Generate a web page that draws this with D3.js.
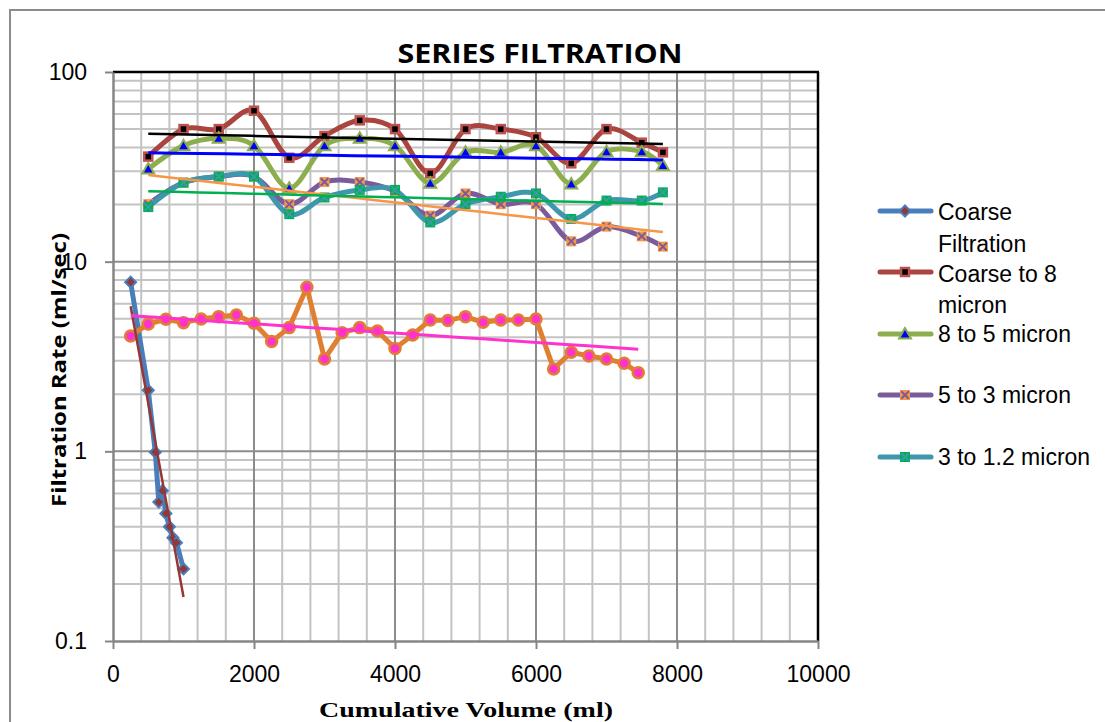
<!DOCTYPE html>
<html><head><meta charset="utf-8">
<script src="https://cdnjs.cloudflare.com/ajax/libs/d3/7.8.5/d3.min.js"></script>
<style>html,body{margin:0;padding:0;background:#fff;}svg{display:block;}</style>
</head><body>
<svg id="c" width="1105" height="722"></svg>
<script>
// ---------- data ----------
const seriesNames = ["Coarse Filtration","Coarse to 8 micron","8 to 5 micron","5 to 3 micron","3 to 1.2 micron","Series 6"];
const coarseX = [250,500,600,650,700,750,800,850,900,1000];
const coarseY = [7.8,2.1,0.99,0.54,0.62,0.47,0.40,0.35,0.33,0.24];
const stageX = [500,1000,1500,2000,2500,3000,3500,4000,4500,5000,5500,6000,6500,7000,7500,7800];
const c8Y   = [35.8,50,50,62.5,35.3,46,55.6,50,29.2,50,50,45.3,33,50,42.4,37.7];
const f85Y  = [30.8,40.9,44.7,40.9,24.4,40.9,44.7,40.9,25.9,37.7,37.7,40.9,25.7,38,38,32.1];
const f53Y  = [20.1,26.1,28.1,28.1,20.1,26.3,26.3,23.5,17.5,22.9,20.1,20.1,12.8,15.3,13.6,12.0];
const f312Y = [19.4,26.1,28.1,28.1,17.8,21.8,23.9,23.9,16.1,20.1,22.0,22.9,16.8,21.0,21.0,23.2];
const s6X = [250,500,750,1000,1250,1500,1750,2000,2250,2500,2750,3000,3250,3500,3750,4000,4250,4500,4750,5000,5250,5500,5750,6000,6250,6500,6750,7000,7250,7450];
const s6Y = [4.06,4.69,4.97,4.77,4.99,5.13,5.24,4.73,3.79,4.49,7.33,3.07,4.22,4.49,4.31,3.49,4.11,4.93,4.90,5.13,4.79,4.93,4.93,4.99,2.72,3.33,3.18,3.07,2.91,2.60];
const xTicks = [0,2000,4000,6000,8000,10000];
const yTicks = [0.1,1,10,100];

// ---------- styles ----------
const styles = [
  {line:"#4A7EBB", smooth:false, marker:"diamond", mFill:"#8E3A3A", mStroke:"#4A7EBB", trend:"#953735", tw:2.5, legend:true},
  {line:"#A9443F", smooth:true,  marker:"square",  mFill:"#000000", mStroke:"#C0504D", trend:"#000000", tw:2.5, legend:true},
  {line:"#8DAE4E", smooth:true,  marker:"triangle",mFill:"#0000FF", mStroke:"#8DAE4E", trend:"#0000FF", tw:3, legend:true},
  {line:"#7A5C9C", smooth:true,  marker:"xsq",     mFill:"#F79646", mStroke:"#7A5C9C", trend:"#F79646", tw:2.5, legend:true},
  {line:"#3F97AE", smooth:true,  marker:"xsq",     mFill:"#00B050", mStroke:"#3F97AE", trend:"#00B050", tw:2.5, legend:true},
  {line:"#E07F32", smooth:false, marker:"circle",  mFill:"#FF33CC", mStroke:"#E07F32", trend:"#FF33CC", tw:3, legend:false}
];
const data = [
  coarseX.map((v,i)=>[v,coarseY[i]]),
  stageX.map((v,i)=>[v,c8Y[i]]),
  stageX.map((v,i)=>[v,f85Y[i]]),
  stageX.map((v,i)=>[v,f53Y[i]]),
  stageX.map((v,i)=>[v,f312Y[i]]),
  s6X.map((v,i)=>[v,s6Y[i]])
];

const svg = d3.select("#c");
const L=113, R=818, T=72, B=641;
const x = d3.scaleLinear().domain([0,10000]).range([L,R]);
const y = d3.scaleLog().domain([0.1,100]).range([B,T]);

// outer frame
svg.append("rect").attr("x",10).attr("y",10).attr("width",1110).attr("height",730)
  .attr("fill","none").attr("stroke","#8C8C8C").attr("stroke-width",2);

// grid
const g = svg.append("g");
const minorV = d3.range(400,10000,400).filter(v=>v%2000!==0);
const majorV = [2000,4000,6000,8000];
g.selectAll(".mv").data(minorV).enter().append("line")
  .attr("x1",d=>x(d)).attr("x2",d=>x(d)).attr("y1",T).attr("y2",B)
  .attr("stroke","#C3C3C3").attr("stroke-width",2);
const minorH = [];
[0.1,1,10].forEach(d=>{for(let k=2;k<=9;k++) minorH.push(d*k);});
g.selectAll(".mh").data(minorH).enter().append("line")
  .attr("x1",L).attr("x2",R).attr("y1",d=>y(d)).attr("y2",d=>y(d))
  .attr("stroke","#C3C3C3").attr("stroke-width",2);
g.selectAll(".Mv").data(majorV).enter().append("line")
  .attr("x1",d=>x(d)).attr("x2",d=>x(d)).attr("y1",T).attr("y2",B)
  .attr("stroke","#8C8C8C").attr("stroke-width",2);
g.selectAll(".Mh").data([1,10]).enter().append("line")
  .attr("x1",L).attr("x2",R).attr("y1",d=>y(d)).attr("y2",d=>y(d))
  .attr("stroke","#8C8C8C").attr("stroke-width",2);
// top/right border
svg.append("line").attr("x1",L).attr("x2",R+1).attr("y1",T).attr("y2",T).attr("stroke","#000").attr("stroke-width",2.5);
svg.append("line").attr("x1",R).attr("x2",R).attr("y1",T).attr("y2",B).attr("stroke","#000").attr("stroke-width",2.5);

// axes
const fmtY = d=> d===0.1?"0.1":String(d);
const ax = svg.append("g").attr("transform",`translate(0,${B})`)
  .call(d3.axisBottom(x).tickValues(xTicks).tickSize(8).tickPadding(17).tickSizeOuter(0).tickFormat(d3.format("d")));
const ay = svg.append("g").attr("transform",`translate(${L},0)`)
  .call(d3.axisLeft(y).tickValues(yTicks).tickSize(8).tickPadding(18).tickSizeOuter(0).tickFormat(fmtY));
[ax,ay].forEach(a=>{
  a.select(".domain").attr("stroke","#868686").attr("stroke-width",2.5);
  a.selectAll(".tick line").attr("stroke","#868686").attr("stroke-width",2);
  a.selectAll("text").attr("font-family","'Liberation Sans', Arial, sans-serif").attr("font-size",23).attr("fill","#000");
});

// series lines
const lineStraight = d3.line().x(d=>x(d[0])).y(d=>y(d[1]));
const lineSmooth = d3.line().x(d=>x(d[0])).y(d=>y(d[1])).curve(d3.curveCardinal.tension(0));
const plot = svg.append("g");

function drawMarker(sel, type, cx, cy, st, scale){
  const s = scale||1;
  if(type==="diamond"){
    const r=5.5*s;
    sel.append("path").attr("d",`M${cx},${cy-r}L${cx+r},${cy}L${cx},${cy+r}L${cx-r},${cy}Z`)
      .attr("fill",st.mFill).attr("stroke",st.mStroke).attr("stroke-width",2);
  } else if(type==="square"){
    const h=4*s;
    sel.append("rect").attr("x",cx-h).attr("y",cy-h).attr("width",2*h).attr("height",2*h)
      .attr("fill",st.mFill).attr("stroke",st.mStroke).attr("stroke-width",2.5);
  } else if(type==="triangle"){
    const r=6*s;
    sel.append("path").attr("d",`M${cx},${cy-r}L${cx+r},${cy+r*0.75}L${cx-r},${cy+r*0.75}Z`)
      .attr("fill",st.mFill).attr("stroke",st.mStroke).attr("stroke-width",2);
  } else if(type==="xsq"){
    const h=5*s;
    sel.append("rect").attr("x",cx-h).attr("y",cy-h).attr("width",2*h).attr("height",2*h)
      .attr("fill",st.mFill).attr("stroke","none");
    const k=3.8*s;
    sel.append("path").attr("d",`M${cx-k},${cy-k}L${cx+k},${cy+k}M${cx-k},${cy+k}L${cx+k},${cy-k}`)
      .attr("stroke",st.mStroke).attr("stroke-width",2).attr("fill","none");
  } else if(type==="circle"){
    sel.append("circle").attr("cx",cx).attr("cy",cy).attr("r",5.5*s)
      .attr("fill",st.mFill).attr("stroke",st.mStroke).attr("stroke-width",2.5);
  }
}

data.forEach((pts,i)=>{
  const st = styles[i];
  plot.append("path").datum(pts).attr("d",(st.smooth?lineSmooth:lineStraight))
    .attr("fill","none").attr("stroke",st.line).attr("stroke-width",5)
    .attr("stroke-linejoin","round").attr("stroke-linecap","round");
  const mg = plot.append("g");
  pts.forEach(p=>drawMarker(mg, st.marker, x(p[0]), y(p[1]), st));
});

// exponential trendlines (least squares on ln y)
data.forEach((pts,i)=>{
  const st = styles[i];
  const n = pts.length;
  const mx = d3.mean(pts,p=>p[0]), my = d3.mean(pts,p=>Math.log(p[1]));
  let sxy=0,sxx=0;
  pts.forEach(p=>{sxy+=(p[0]-mx)*(Math.log(p[1])-my); sxx+=(p[0]-mx)**2;});
  const b = sxy/sxx, a = my - b*mx;
  const x0 = d3.min(pts,p=>p[0]), x1 = d3.max(pts,p=>p[0]);
  const tp = d3.range(0,21).map(k=>{const xv=x0+(x1-x0)*k/20; return [xv, Math.exp(a+b*xv)];});
  plot.append("path").datum(tp).attr("d",lineStraight)
    .attr("fill","none").attr("stroke",st.trend).attr("stroke-width",st.tw);
});

// title
svg.append("text").attr("x",540).attr("y",63).attr("text-anchor","middle")
  .attr("font-family","'Open Sans', 'Liberation Sans', sans-serif").attr("font-weight","bold")
  .attr("font-size",26).attr("textLength",285).attr("lengthAdjust","spacingAndGlyphs")
  .text("SERIES FILTRATION");
// axis titles
svg.append("text").attr("x",466).attr("y",717).attr("text-anchor","middle")
  .attr("font-family","'Liberation Serif', 'Times New Roman', serif").attr("font-weight","bold")
  .attr("font-size",22).attr("textLength",294).attr("lengthAdjust","spacingAndGlyphs")
  .text("Cumulative Volume (ml)");
svg.append("text").attr("transform","translate(66,370) rotate(-90)").attr("text-anchor","middle")
  .attr("font-family","'Open Sans', 'Liberation Sans', sans-serif").attr("font-weight","bold")
  .attr("font-size",20).attr("textLength",274).attr("lengthAdjust","spacingAndGlyphs")
  .text("Filtration Rate (ml/sec)");

// legend
const legendRows = [
  {lines:["Coarse","Filtration"], ly:211, by:[220,252]},
  {lines:["Coarse to 8","micron"], ly:272, by:[282,313]},
  {lines:["8 to 5 micron"], ly:334, by:[342]},
  {lines:["5 to 3 micron"], ly:395, by:[403]},
  {lines:["3 to 1.2 micron"], ly:457, by:[465]}
];
const lg = svg.append("g");
legendRows.forEach((r,i)=>{
  const st = styles[i];
  lg.append("line").attr("x1",880).attr("x2",931).attr("y1",r.ly).attr("y2",r.ly)
    .attr("stroke",st.line).attr("stroke-width",5).attr("stroke-linecap","round");
  drawMarker(lg, st.marker, 905, r.ly, st);
  r.lines.forEach((t,k)=>{
    lg.append("text").attr("x",938).attr("y",r.by[k])
      .attr("font-family","'Liberation Sans', Arial, sans-serif").attr("font-size",23).attr("fill","#000").text(t);
  });
});
</script>
</body></html>
